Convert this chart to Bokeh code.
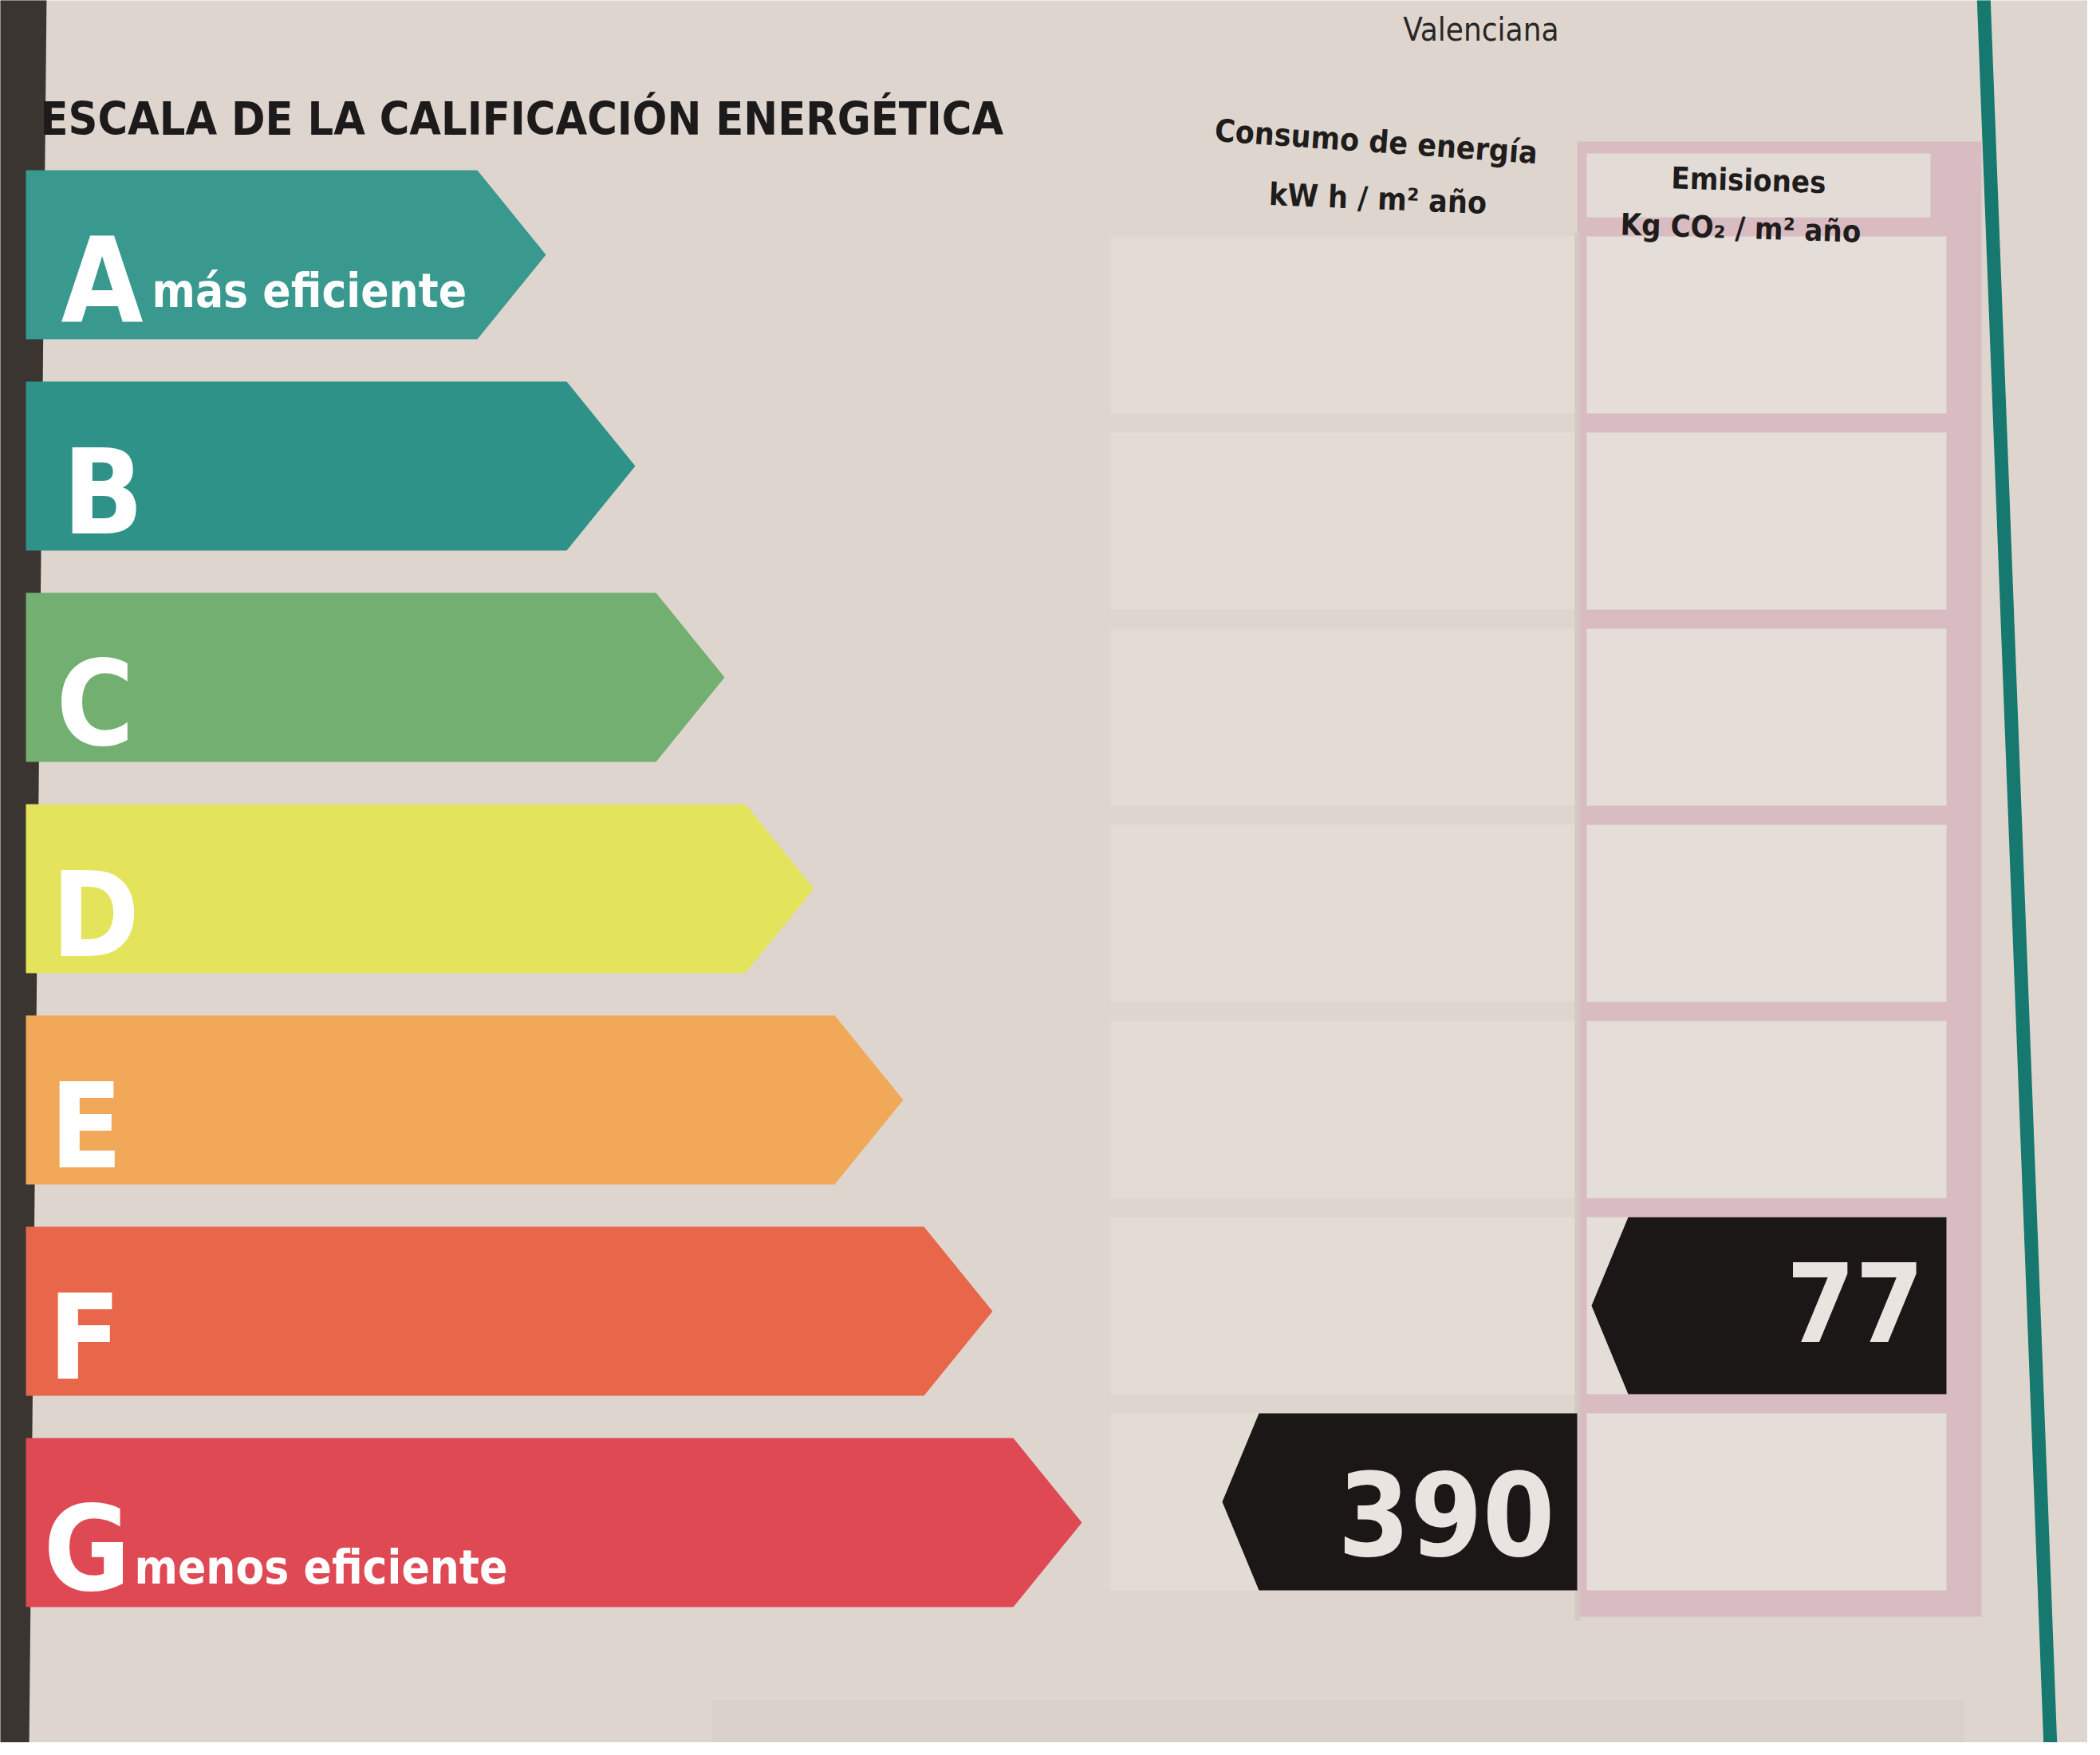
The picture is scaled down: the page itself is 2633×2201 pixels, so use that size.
from bokeh.plotting import figure
from bokeh.models import Range1d, ColumnDataSource
from bokeh.core.properties import value
from bokeh.embed import file_html
from bokeh.resources import INLINE

# ---------------- data ----------------
ratings = ["A", "B", "C", "D", "E", "F", "G"]
band_colors = ["#39998f", "#2e9289", "#72af70", "#e4e35c", "#f1a858", "#e8674b", "#df4954"]
band_notes = ["más eficiente", "", "", "", "", "", "menos eficiente"]
title_text = "ESCALA DE LA CALIFICACIÓN ENERGÉTICA"
top_text = "Valenciana"
consumo_header = ["Consumo de energía", "kW h / m² año"]
emision_header = ["Emisiones", "Kg CO₂ / m² año"]
consumo_value = 390
consumo_rating = "G"
emision_value = 77
emision_rating = "F"

# ---------------- layout ----------------
W, H = 2617, 2185
FONT = "DejaVu Sans Condensed"
PAPER = "#ded6ce"
BL = 0.3  # baseline correction (fraction of font size)

band_y0, band_step, band_half = 327, 265, 106
band_left, tip0, tip_step, head = 40, 692, 112, 86
row_y0, row_step, row_half = 415, 246, 111
cons_l, cons_r = 1400, 1985
emis_l, emis_r = 1997, 2448
marker_w, marker_head = 445, 46


def ty(baseline, size):
    return baseline - BL * size


p = figure(width=W, height=H, x_range=Range1d(8, 8 + W), y_range=Range1d(8 + H, 8),
           output_backend="svg", toolbar_location=None, min_border=0,
           background_fill_color=PAPER, border_fill_color=PAPER, outline_line_color=None)
p.axis.visible = False
p.grid.visible = False

# ---- page background details ----
p.quad(left=[900], right=[2470], top=[2140], bottom=[2201], color="#d9d1c9", line_color=None)
cy = [row_y0 + row_step * i for i in range(len(ratings))]
p.quad(left=[cons_l] * 7, right=[cons_r] * 7, top=[c - row_half for c in cy],
       bottom=[c + row_half for c in cy], color="#e2dcd5", line_color=None)
p.quad(left=[emis_l - 12], right=[2492], top=[185], bottom=[2035], color="#d9bcc1", line_color=None)
p.quad(left=[emis_l], right=[emis_r - 20], top=[200], bottom=[row_y0 - row_half - 24],
       color="#e2dbd6", line_color=None)
p.quad(left=[emis_l] * 7, right=[emis_r] * 7, top=[c - row_half for c in cy],
       bottom=[c + row_half for c in cy], color="#e4ddd8", line_color=None)
p.line(x=[(cons_r + emis_l) / 2 - 6] * 2, y=[300, 2040], line_color="#d2c9c2", line_width=6)

# dark strip on the left and teal rule on the right
p.patch(x=[0, 66, 44, 0], y=[0, 0, 2201, 2201], color="#3a3531", line_color=None)
p.patch(x=[2486, 2503, 2587, 2570], y=[0, 0, 2201, 2201], color="#16786e", line_color=None)

# ---- energy bands ----
xs, ys = [], []
for i in range(len(ratings)):
    c = band_y0 + band_step * i
    tip = tip0 + tip_step * i
    xs.append([band_left, tip - head, tip, tip - head, band_left])
    ys.append([c - band_half, c - band_half, c, c + band_half, c + band_half])
p.patches(xs=xs, ys=ys, fill_color=band_colors, line_color=None)

LETTER = 148
letter_src = ColumnDataSource(dict(
    x=[84, 86, 78, 72, 70, 68, 62],
    y=[ty(band_y0 + band_step * i + 78, LETTER) for i in range(7)], t=ratings))
p.text(x="x", y="y", text="t", source=letter_src, text_color="white",
       text_font=value(FONT), text_font_style="bold", text_font_size=f"{LETTER}px",
       text_baseline="alphabetic", text_align="left")

NOTE = 58
note_idx = [i for i, n in enumerate(band_notes) if n]
note_src = ColumnDataSource(dict(
    x=[198 if i == 0 else 176 for i in note_idx],
    y=[ty(band_y0 + band_step * i + (63 if i == 0 else 74), NOTE) for i in note_idx],
    t=[band_notes[i] for i in note_idx]))
p.text(x="x", y="y", text="t", source=note_src, text_color="white",
       text_font=value(FONT), text_font_style="bold", text_font_size=f"{NOTE}px",
       text_baseline="alphabetic", text_align="left")

# ---- texts ----
p.text(x=[58], y=[ty(174, 57)], text=[title_text], text_color="#1c1a1a", text_font=value(FONT),
       text_font_style="bold", text_font_size="57px", text_baseline="alphabetic")
p.text(x=[1962], y=[ty(56, 40)], text=[top_text], text_color="#2a2626", text_font=value(FONT),
       text_font_size="40px", text_baseline="alphabetic", text_align="right")
p.text(x=[1733, 1735], y=[ty(197, 40), ty(268, 38)], text=consumo_header, text_color="#1f1c1c",
       text_font=value(FONT), text_font_style="bold", text_font_size="39px",
       text_baseline="alphabetic", text_align="center", angle=[-0.07, -0.04])
p.text(x=[2200, 2190], y=[ty(245, 38), ty(305, 38)], text=emision_header, text_color="#1f1c1c",
       text_font=value(FONT), text_font_style="bold", text_font_size="38px",
       text_baseline="alphabetic", text_align="center", angle=[-0.03, -0.03])


# ---- result markers ----
def marker(rating, right, val, size, baseline_off):
    i = ratings.index(rating)
    c = row_y0 + row_step * i
    left = right - marker_w
    p.patch(x=[left, left + marker_head, right, right, left + marker_head],
            y=[c, c - row_half, c - row_half, c + row_half, c + row_half],
            color="#1b1717", line_color=None)
    p.text(x=[right - 28], y=[ty(c + baseline_off, size)], text=[str(val)], text_color="#e9e4df",
           text_font=value(FONT), text_font_style="bold", text_font_size=f"{size}px",
           text_baseline="alphabetic", text_align="right")


marker(consumo_rating, cons_r, consumo_value, 145, 58)
marker(emision_rating, emis_r, emision_value, 138, 36)

open("out.html", "w").write(file_html(p, INLINE))
